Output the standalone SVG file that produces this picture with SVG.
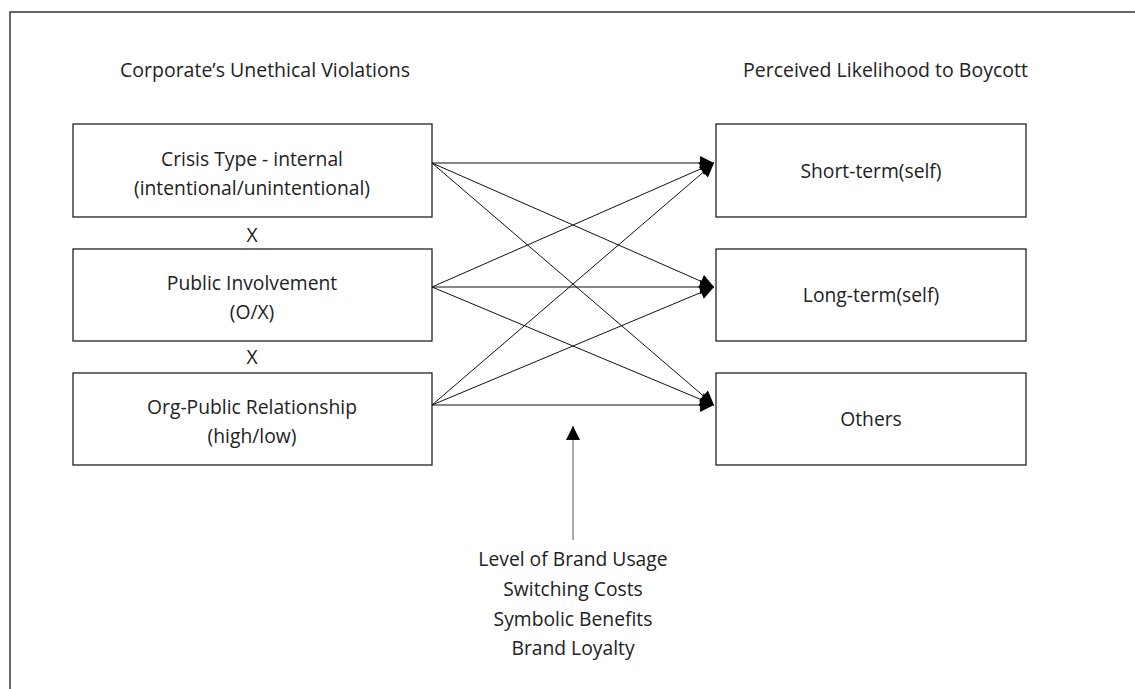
<svg xmlns="http://www.w3.org/2000/svg" width="1135" height="689" viewBox="0 0 1135 689">
<style>
text{font-family:"Open Sans","Noto Sans","Liberation Sans",sans-serif;fill:#222;}
.t{font-size:19.5px;}
.b{font-size:19.3px;text-anchor:middle;}
.box{fill:#fff;stroke:#222;stroke-width:1.3;}
.c line{stroke:#111;stroke-width:1;}
</style>
<defs>
<marker id="ah" viewBox="0 0 10 10" refX="10" refY="5" markerWidth="18" markerHeight="14" markerUnits="userSpaceOnUse" orient="auto">
<path d="M0,0 L10,5 L0,10 z" fill="#000"/>
</marker>
</defs>
<rect width="1135" height="689" fill="#fff"/>
<g id="frame" stroke="#333" stroke-width="1.5" fill="none">
<path d="M10,689 V12 H1135"/>
</g>
<text class="t" x="120" y="77">Corporate’s Unethical Violations</text>
<text class="t" x="743" y="77">Perceived Likelihood to Boycott</text>
<g id="n1"><rect class="box" x="73" y="124" width="359" height="93"/>
<text class="b" x="252" y="166">Crisis Type - internal</text>
<text class="b" x="252" y="195">(intentional/unintentional)</text></g>
<g id="x1"><text class="b" x="252" y="242">X</text></g>
<g id="n2"><rect class="box" x="73" y="249" width="359" height="92"/>
<text class="b" x="252" y="290">Public Involvement</text>
<text class="b" x="252" y="319">(O/X)</text></g>
<g id="x2"><text class="b" x="252" y="364">X</text></g>
<g id="n3"><rect class="box" x="73" y="373" width="359" height="92"/>
<text class="b" x="252" y="414">Org-Public Relationship</text>
<text class="b" x="252" y="443">(high/low)</text></g>
<g id="r1"><rect class="box" x="716" y="124" width="310" height="93"/>
<text class="b" x="871" y="178">Short-term(self)</text></g>
<g id="r2"><rect class="box" x="716" y="249" width="310" height="92"/>
<text class="b" x="871" y="302">Long-term(self)</text></g>
<g id="r3"><rect class="box" x="716" y="373" width="310" height="92"/>
<text class="b" x="871" y="426">Others</text></g>
<g id="mod">
<text class="b" x="573" y="566">Level of Brand Usage</text>
<text class="b" x="573" y="596">Switching Costs</text>
<text class="b" x="573" y="626">Symbolic Benefits</text>
<text class="b" x="573" y="655">Brand Loyalty</text>
</g>
<g class="c" id="connectors">
<line x1="432" y1="163" x2="714" y2="163" marker-end="url(#ah)"/>
<line x1="432" y1="163" x2="714" y2="287" marker-end="url(#ah)"/>
<line x1="432" y1="163" x2="714" y2="405" marker-end="url(#ah)"/>
<line x1="432" y1="287" x2="714" y2="163" marker-end="url(#ah)"/>
<line x1="432" y1="287" x2="714" y2="287" marker-end="url(#ah)"/>
<line x1="432" y1="287" x2="714" y2="405" marker-end="url(#ah)"/>
<line x1="432" y1="405" x2="714" y2="163" marker-end="url(#ah)"/>
<line x1="432" y1="405" x2="714" y2="287" marker-end="url(#ah)"/>
<line x1="432" y1="405" x2="714" y2="405" marker-end="url(#ah)"/>
<line x1="573" y1="540" x2="573" y2="426" marker-end="url(#ah)" style="stroke:#555"/>
</g>
</svg>
